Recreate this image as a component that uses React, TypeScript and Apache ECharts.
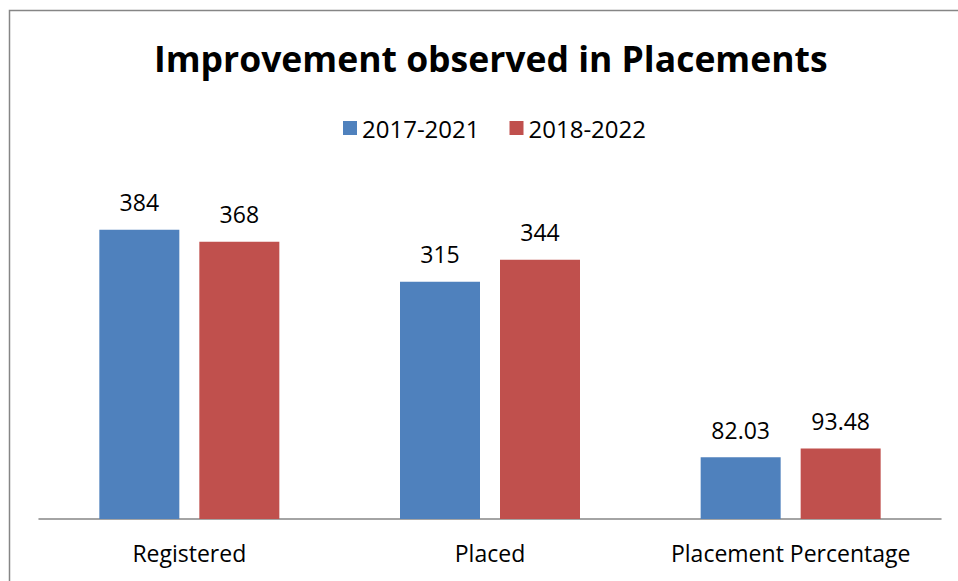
import React, { useEffect, useRef } from "react";
import * as echarts from "echarts";

const categories = ["Registered", "Placed", "Placement Percentage"];
const seriesNames = ["2017-2021", "2018-2022"];
const values2017 = [384, 315, 82.03];
const values2018 = [368, 344, 93.48];
const colors = ["#4F81BD", "#C0504D"];

const FONT = "'Open Sans', sans-serif";

export default function App() {
  const ref = useRef<HTMLDivElement>(null);
  useEffect(() => {
    if (!ref.current) return;
    const chart = echarts.init(ref.current, undefined, { renderer: "svg" });
    const label = {
      show: true,
      position: "top",
      distance: 16,
      color: "#000",
      fontSize: 23,
      fontFamily: FONT,
    };
    chart.setOption({
      animation: false,
      title: {
        text: "Improvement observed in Placements",
        left: 149,
        top: 35,
        textStyle: { fontSize: 35.5, fontWeight: "bold", color: "#000", fontFamily: FONT },
      },
      legend: {
        top: 111,
        left: 338,
        itemWidth: 14,
        itemHeight: 14,
        itemGap: 30,
        icon: "rect",
        textStyle: { fontSize: 24, color: "#000", fontFamily: FONT },
        data: seriesNames,
      },
      grid: { left: 39, right: 17, top: 180, bottom: 62 },
      xAxis: {
        type: "category",
        data: categories,
        axisLine: { lineStyle: { color: "#868686", width: 1.5 } },
        axisTick: { show: false },
        axisLabel: { interval: 0, fontSize: 23, color: "#000", fontFamily: FONT, margin: 22 },
      },
      yAxis: {
        type: "value",
        min: 0,
        max: 450,
        show: false,
        splitLine: { show: false },
      },
      series: [
        {
          name: seriesNames[0],
          type: "bar",
          data: values2017,
          barWidth: 80,
          barGap: "25%",
          itemStyle: { color: colors[0] },
          label,
        },
        {
          name: seriesNames[1],
          type: "bar",
          data: values2018,
          barWidth: 80,
          itemStyle: { color: colors[1] },
          label,
        },
      ],
      graphic: [
        {
          type: "rect",
          shape: { x: 9.5, y: 10.5, width: 1200, height: 1200 },
          style: { fill: "none", stroke: "#868686", lineWidth: 1.5 },
          silent: true,
        },
      ],
    });
    return () => chart.dispose();
  }, []);
  return (
    <div
      ref={ref}
      style={{ position: "absolute", left: 0, top: 0, width: 958, height: 581, background: "#fff" }}
    />
  );
}
